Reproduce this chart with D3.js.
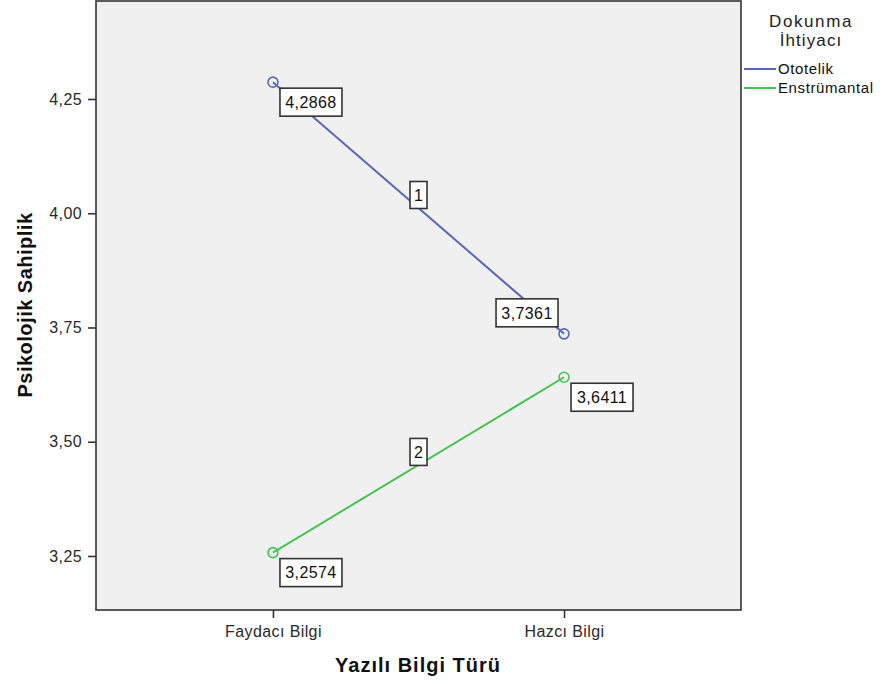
<!DOCTYPE html>
<html>
<head>
<meta charset="utf-8">
<script src="https://cdn.jsdelivr.net/npm/d3@7"></script>
<style>
  body { margin: 0; background: #fff; }
  text { font-family: "Liberation Sans", Arial, sans-serif; }
</style>
</head>
<body>
<div id="chart"></div>
<script>
// values
const categories = ["Faydacı Bilgi", "Hazcı Bilgi"];
const seriesNames = ["Ototelik", "Enstrümantal"];
const ototelik = [4.2868, 3.7361];
const enstrumantal = [3.2574, 3.6411];
const yTicks = [3.25, 3.50, 3.75, 4.00, 4.25];
const lineLabels = ["1", "2"];
const colors = ["#5468c0", "#45c452"];

const width = 882, height = 684;
const plot = { left: 96, top: 1, right: 741, bottom: 610 };

const trLocale = d3.formatLocale({ decimal: ",", thousands: ".", grouping: [3], currency: ["", " ₺"] });
const fmtTick = trLocale.format(".2f");
const fmtVal = trLocale.format(".4f");

const svg = d3.select("#chart").append("svg")
    .attr("width", width)
    .attr("height", height);

const x = d3.scalePoint()
    .domain(categories)
    .range([plot.left, plot.right])
    .padding(0.608);

const y = d3.scaleLinear()
    .domain([3.1318, 4.4644])
    .range([plot.bottom, plot.top]);

// plot background + frame
svg.append("rect")
    .attr("x", plot.left).attr("y", plot.top)
    .attr("width", plot.right - plot.left)
    .attr("height", plot.bottom - plot.top)
    .attr("fill", "#f0f0f0")
    .attr("stroke", "#333")
    .attr("stroke-width", 1.6);

const yAxis = d3.axisLeft(y)
    .tickValues(yTicks)
    .tickFormat(fmtTick)
    .tickSize(8)
    .tickPadding(6);

const xAxis = d3.axisBottom(x)
    .tickSize(8)
    .tickPadding(8);

const gy = svg.append("g")
    .attr("transform", "translate(" + plot.left + ",0)")
    .call(yAxis);
const gx = svg.append("g")
    .attr("transform", "translate(0," + plot.bottom + ")")
    .call(xAxis);

[gx, gy].forEach(function(g) {
    g.select(".domain").remove();
    g.selectAll(".tick line").attr("stroke", "#333").attr("stroke-width", 1.6);
    g.selectAll(".tick text")
        .attr("fill", "#2a2a2a")
        .style("font-size", "16px")
        .style("letter-spacing", "0.4px")
        .style("font-family", "'Liberation Sans', Arial, sans-serif");
});

// axis titles
svg.append("text")
    .attr("transform", "translate(32,305) rotate(-90)")
    .attr("text-anchor", "middle")
    .style("font-size", "20px")
    .style("font-weight", "bold")
    .style("letter-spacing", "0.5px")
    .attr("fill", "#111")
    .text("Psikolojik Sahiplik");

svg.append("text")
    .attr("x", 418).attr("y", 672)
    .attr("text-anchor", "middle")
    .style("font-size", "20px")
    .style("font-weight", "bold")
    .style("letter-spacing", "1px")
    .attr("fill", "#111")
    .text("Yazılı Bilgi Türü");

const series = [ototelik, enstrumantal].map(function(vals, i) {
    return {
        name: seriesNames[i],
        color: colors[i],
        label: lineLabels[i],
        values: vals.map(function(v, j) { return { cat: categories[j], value: v, s: i, c: j }; })
    };
});

const line = d3.line()
    .x(function(d) { return x(d.cat); })
    .y(function(d) { return y(d.value); });

const groups = svg.selectAll("g.series")
    .data(series)
    .enter()
    .append("g")
    .attr("class", "series");

groups.append("path")
    .attr("d", function(d) { return line(d.values); })
    .attr("fill", "none")
    .attr("stroke", function(d) { return d.color; })
    .attr("stroke-width", 2);

groups.selectAll("circle")
    .data(function(d) { return d.values; })
    .enter()
    .append("circle")
    .attr("cx", function(d) { return x(d.cat); })
    .attr("cy", function(d) { return y(d.value); })
    .attr("r", 5)
    .attr("fill", "none")
    .attr("stroke", function(d) { return colors[d.s]; })
    .attr("stroke-width", 1.6);

// line number labels at the middle of each line
const numW = 17, numH = 27;
const nums = groups.append("g")
    .attr("transform", function(d) {
        const a = d.values[0], b = d.values[1];
        const mx = (x(a.cat) + x(b.cat)) / 2;
        const my = (y(a.value) + y(b.value)) / 2 - 13;
        return "translate(" + mx + "," + my + ")";
    });
nums.append("rect")
    .attr("x", -numW / 2).attr("y", -numH / 2)
    .attr("width", numW).attr("height", numH)
    .attr("fill", "#fff")
    .attr("stroke", "#333")
    .attr("stroke-width", 1.6);
nums.append("text")
    .attr("text-anchor", "middle")
    .attr("dy", "0.36em")
    .style("font-size", "16px")
    .attr("fill", "#111")
    .text(function(d) { return d.label; });

// value labels
const boxW = 62, boxH = 28;
const valLabels = groups.selectAll("g.val")
    .data(function(d) { return d.values; })
    .enter()
    .append("g")
    .attr("class", "val")
    .attr("transform", function(d) {
        const px = x(d.cat), py = y(d.value);
        // the label above the falling line sits up-left of its point
        if (d.s === 0 && d.c === 1) return "translate(" + (px - 6 - boxW) + "," + (py - 7 - boxH) + ")";
        return "translate(" + (px + 7) + "," + (py + 6) + ")";
    });
valLabels.append("rect")
    .attr("width", boxW).attr("height", boxH)
    .attr("fill", "#fff")
    .attr("stroke", "#333")
    .attr("stroke-width", 1.6);
valLabels.append("text")
    .attr("x", boxW / 2).attr("y", boxH / 2)
    .attr("dy", "0.36em")
    .attr("text-anchor", "middle")
    .style("font-size", "16px")
    .style("letter-spacing", "0.4px")
    .attr("fill", "#111")
    .text(function(d) { return fmtVal(d.value); });

// legend
const legend = svg.append("g");
legend.append("text")
    .attr("x", 811).attr("y", 27)
    .attr("text-anchor", "middle")
    .style("font-size", "17px")
    .style("letter-spacing", "1.6px")
    .attr("fill", "#222")
    .text("Dokunma");
legend.append("text")
    .attr("x", 811).attr("y", 46)
    .attr("text-anchor", "middle")
    .style("font-size", "17px")
    .style("letter-spacing", "1.1px")
    .attr("fill", "#222")
    .text("İhtiyacı");

const items = legend.selectAll("g.item")
    .data(series)
    .enter()
    .append("g")
    .attr("class", "item")
    .attr("transform", function(d, i) { return "translate(744," + (69 + i * 19) + ")"; });
items.append("line")
    .attr("x1", 0).attr("x2", 32)
    .attr("stroke", function(d) { return d.color; })
    .attr("stroke-width", 2);
items.append("text")
    .attr("x", 34)
    .attr("dy", "0.36em")
    .style("font-size", "15px")
    .style("letter-spacing", "0.6px")
    .attr("fill", "#111")
    .text(function(d) { return d.name; });
</script>
</body>
</html>
